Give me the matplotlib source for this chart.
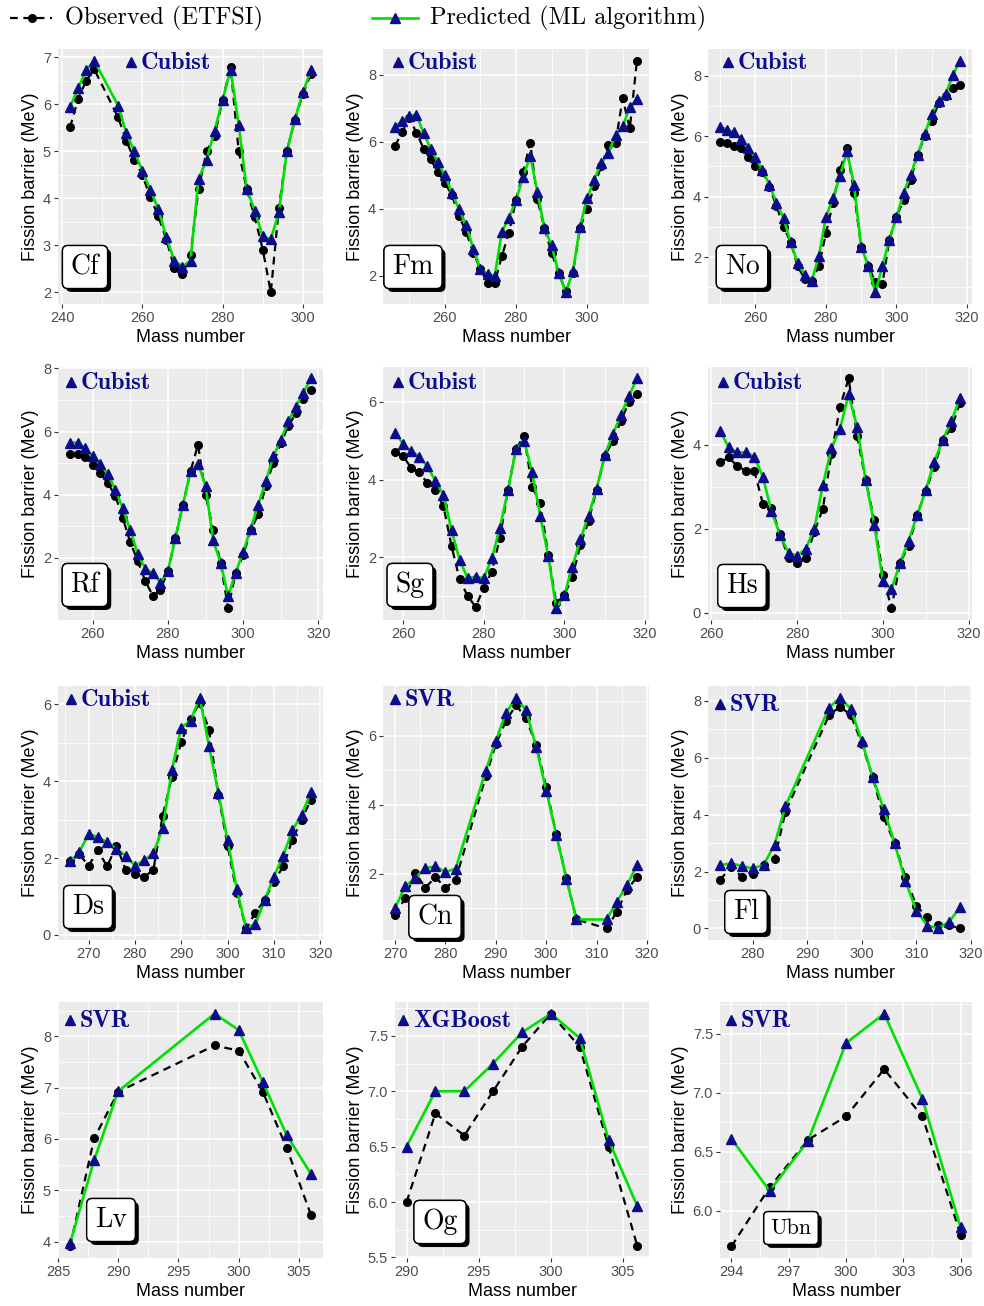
import matplotlib.pyplot as plt
import matplotlib.patheffects as pe
from matplotlib.ticker import MultipleLocator, FormatStrFormatter
from matplotlib.lines import Line2D

plt.rcParams['font.family'] = ['Liberation Sans', 'DejaVu Sans']

# ---- data (fission barriers, MeV) ----
cf_mass = [242, 244, 246, 248, 254, 256, 258, 260, 262, 264, 266, 268, 270, 272, 274,
           276, 278, 280, 282, 284, 286, 288, 290, 292, 294, 296, 298, 300, 302]
cf_obs = [5.51, 6.11, 6.5, 6.75, 5.72, 5.23, 4.82, 4.5, 4.02, 3.62, 3.12, 2.51, 2.39, 2.79, 4.2,
          5.0, 5.32, 6.1, 6.79, 5.0, 4.2, 3.6, 2.91, 2.0, 3.79, 5.0, 5.67, 6.22, 6.65]
cf_pred = [5.94, 6.34, 6.72, 6.93, 5.97, 5.39, 5.0, 4.59, 4.18, 3.77, 3.17, 2.67, 2.55, 2.67, 4.41,
           4.82, 5.44, 6.1, 6.74, 5.56, 4.2, 3.74, 3.19, 3.13, 3.7, 5.0, 5.69, 6.26, 6.72]

fm_mass = [246, 248, 250, 252, 254, 256, 258, 260, 262, 264, 266, 268, 270, 272, 274, 276, 278, 280,
           282, 284, 286, 288, 290, 292, 294, 296, 298, 300, 302, 304, 306, 308, 310, 312, 314]
fm_obs = [5.88, 6.3, 6.7, 6.28, 5.8, 5.48, 5.1, 4.78, 4.4, 3.78, 3.3, 2.68, 2.2, 1.78, 1.78, 2.58, 3.28, 4.26,
          5.1, 5.98, 4.28, 3.43, 2.68, 2.08, 1.53, 2.08, 3.43, 3.98, 4.68, 5.28, 5.9, 5.98, 7.3, 6.4, 8.43]
fm_pred = [6.45, 6.63, 6.78, 6.81, 6.26, 5.8, 5.4, 5.0, 4.48, 3.98, 3.51, 2.8, 2.2, 2.06, 1.98, 3.3, 3.73, 4.26,
           4.95, 5.58, 4.51, 3.42, 2.91, 2.08, 1.5, 2.13, 3.46, 4.33, 4.86, 5.38, 5.66, 6.2, 6.46, 7.03, 7.28]

no_mass = [250, 252, 254, 256, 258, 260, 262, 264, 266, 268, 270, 272, 274, 276, 278, 280, 282, 284,
           286, 288, 290, 292, 294, 296, 298, 300, 302, 304, 306, 308, 310, 312, 314, 316, 318]
no_obs = [5.8, 5.78, 5.69, 5.61, 5.31, 5.0, 4.83, 4.31, 3.69, 3.0, 2.5, 1.69, 1.28, 1.22, 1.69, 2.78, 3.78, 4.89,
          5.61, 4.11, 2.33, 1.72, 1.17, 1.1, 2.58, 3.33, 3.89, 4.56, 5.39, 6.0, 6.5, 7.11, 7.33, 7.58, 7.69]
no_pred = [6.31, 6.22, 6.13, 5.89, 5.61, 5.3, 4.89, 4.39, 3.8, 3.28, 2.5, 1.8, 1.41, 1.22, 2.02, 3.33, 3.94, 4.69,
           5.5, 4.37, 2.33, 1.72, 0.83, 1.69, 2.58, 3.33, 4.11, 4.72, 5.39, 6.06, 6.74, 7.17, 7.41, 8.02, 8.5]

rf_mass = [254, 256, 258, 260, 262, 264, 266, 268, 270, 272, 274, 276, 278, 280, 282, 284, 286,
           288, 290, 292, 294, 296, 298, 300, 302, 304, 306, 308, 310, 312, 314, 316, 318]
rf_obs = [5.29, 5.29, 5.19, 4.95, 4.68, 4.37, 3.97, 3.26, 2.49, 1.89, 1.26, 0.79, 0.98, 1.58, 2.63, 3.68, 4.74,
          5.58, 4.0, 2.87, 1.84, 0.39, 1.53, 2.07, 2.87, 3.37, 4.28, 5.0, 5.63, 6.18, 6.58, 7.02, 7.32]
rf_pred = [5.65, 5.65, 5.47, 5.21, 4.97, 4.65, 4.16, 3.58, 2.87, 2.11, 1.65, 1.51, 1.21, 1.58, 2.63, 3.68, 4.74,
           4.98, 4.28, 2.56, 1.84, 0.79, 1.53, 2.18, 2.92, 3.68, 4.42, 5.21, 5.74, 6.32, 6.79, 7.23, 7.68]

sg_mass = [258, 260, 262, 264, 266, 268, 270, 272, 274, 276, 278, 280, 282, 284, 286, 288,
           290, 292, 294, 296, 298, 300, 302, 304, 306, 308, 310, 312, 314, 316, 318]
sg_obs = [4.71, 4.6, 4.3, 4.19, 3.91, 3.72, 3.31, 2.29, 1.43, 1.0, 0.72, 1.22, 1.63, 2.49, 3.72, 4.79,
          5.12, 3.81, 3.4, 2.06, 0.81, 1.03, 1.5, 2.32, 2.93, 3.74, 4.6, 4.99, 5.5, 5.99, 6.19]
sg_pred = [5.21, 4.91, 4.73, 4.59, 4.34, 3.96, 3.61, 2.69, 1.93, 1.46, 1.5, 1.46, 1.97, 2.75, 3.72, 4.79,
           4.99, 4.19, 3.07, 2.03, 0.68, 1.03, 1.76, 2.47, 3.07, 3.76, 4.62, 5.16, 5.66, 6.14, 6.6]

hs_mass = [262, 264, 266, 268, 270, 272, 274, 276, 278, 280, 282, 284, 286, 288, 290,
           292, 294, 296, 298, 300, 302, 304, 306, 308, 310, 312, 314, 316, 318]
hs_obs = [3.58, 3.7, 3.5, 3.38, 3.38, 2.6, 2.5, 1.88, 1.3, 1.18, 1.3, 1.92, 2.48, 3.78, 4.9,
          5.58, 4.2, 3.16, 2.2, 0.9, 0.1, 1.18, 1.6, 2.32, 2.9, 3.48, 4.12, 4.4, 5.0]
hs_pred = [4.34, 3.94, 3.82, 3.82, 3.72, 3.24, 2.42, 1.86, 1.42, 1.36, 1.52, 2.0, 3.04, 3.92, 4.38,
           5.2, 4.42, 3.16, 2.1, 0.76, 0.56, 1.18, 1.72, 2.32, 2.92, 3.6, 4.12, 4.56, 5.12]

ds_mass = [266, 268, 270, 272, 274, 276, 278, 280, 282, 284, 286, 288, 290, 292,
           294, 296, 298, 300, 302, 304, 306, 308, 310, 312, 314, 316, 318]
ds_obs = [1.91, 2.1, 1.8, 2.2, 1.78, 2.32, 1.7, 1.59, 1.5, 1.7, 3.1, 4.11, 5.02, 5.61,
          6.04, 5.33, 3.65, 2.32, 1.09, 0.17, 0.58, 0.91, 1.39, 1.78, 2.48, 3.0, 3.52]
ds_pred = [1.91, 2.15, 2.63, 2.54, 2.41, 2.24, 2.06, 1.8, 1.94, 2.13, 2.78, 4.3, 5.39, 5.57,
           6.17, 4.9, 3.7, 2.46, 1.19, 0.17, 0.29, 0.9, 1.52, 2.06, 2.72, 3.13, 3.71]

cn_mass = [270, 272, 274, 276, 278, 280, 282, 288, 290, 292, 294, 296, 298, 300, 302,
           304, 306, 312, 314, 316, 318]
cn_obs = [0.79, 1.3, 2.03, 1.59, 1.9, 1.59, 1.81, 4.82, 5.76, 6.43, 6.89, 6.51, 5.73, 4.51, 3.14,
          1.87, 0.67, 0.41, 0.89, 1.52, 1.9]
cn_pred = [1.0, 1.63, 1.88, 2.16, 2.21, 2.05, 2.14, 4.99, 5.86, 6.66, 7.11, 6.74, 5.68, 4.41, 3.13,
           1.85, 0.67, 0.67, 1.18, 1.66, 2.24]

fl_mass = [274, 276, 278, 280, 282, 284, 286, 294, 296, 298, 300, 302, 304, 306,
           308, 310, 312, 314, 316, 318]
fl_obs = [1.7, 2.16, 1.82, 1.9, 2.22, 2.43, 4.1, 7.49, 7.79, 7.49, 6.49, 5.31, 3.9, 3.0,
          1.8, 0.8, 0.39, 0.11, 0.11, 0.0]
fl_pred = [2.22, 2.29, 2.19, 2.11, 2.23, 2.94, 4.29, 7.75, 8.11, 7.71, 6.57, 5.31, 4.2, 3.0,
           1.66, 0.63, 0.1, 0.01, 0.23, 0.74]

lv_mass = [286, 288, 290, 298, 300, 302, 304, 306]
lv_obs = [3.91, 6.01, 6.92, 7.82, 7.72, 6.92, 5.82, 4.52]
lv_pred = [3.97, 5.59, 6.93, 8.44, 8.12, 7.11, 6.07, 5.32]

og_mass = [290, 292, 294, 296, 298, 300, 302, 304, 306]
og_obs = [6.0, 6.8, 6.6, 7.0, 7.4, 7.7, 7.4, 6.5, 5.6]
og_pred = [6.5, 7.0, 7.0, 7.25, 7.53, 7.7, 7.48, 6.56, 5.96]

ubn_mass = [294, 296, 298, 300, 302, 304, 306]
ubn_obs = [5.7, 6.2, 6.6, 6.8, 7.2, 6.8, 5.8]
ubn_pred = [6.61, 6.17, 6.59, 7.42, 7.67, 6.95, 5.86]

# ---- layout (pixels) ----
W, H = 984, 1306
GREEN = '#00e000'
NAVY = '#0c0c8c'
DASH = (0, (3.5, 2.5))

rows = [(49, 304), (367, 620), (686, 940), (1002, 1258)]
cols = [(58, 323), (383, 649), (708, 972)]

# name, algorithm, data, x step, y step, y format, left override,
# algorithm label (tri x px, y px), element box centre (px)
panels = [
    ('Cf', 'Cubist', cf_mass, cf_obs, cf_pred, 20, 1, '%g', None, (131, 62), (85, 267)),
    ('Fm', 'Cubist', fm_mass, fm_obs, fm_pred, 20, 2, '%g', None, (398, 62), (413, 267)),
    ('No', 'Cubist', no_mass, no_obs, no_pred, 20, 2, '%g', None, (728, 62), (742, 267)),
    ('Rf', 'Cubist', rf_mass, rf_obs, rf_pred, 20, 2, '%g', None, (71, 382), (85, 585)),
    ('Sg', 'Cubist', sg_mass, sg_obs, sg_pred, 20, 2, '%g', None, (398, 382), (410, 585)),
    ('Hs', 'Cubist', hs_mass, hs_obs, hs_pred, 20, 2, '%g', None, (723, 382), (742, 586)),
    ('Ds', 'Cubist', ds_mass, ds_obs, ds_pred, 10, 2, '%g', None, (71, 699), (88, 907)),
    ('Cn', 'SVR', cn_mass, cn_obs, cn_pred, 10, 2, '%g', None, (395, 699), (435, 917)),
    ('Fl', 'SVR', fl_mass, fl_obs, fl_pred, 10, 2, '%g', None, (720, 704), (746, 912)),
    ('Lv', 'SVR', lv_mass, lv_obs, lv_pred, 5, 1, '%g', None, (70, 1020), (111, 1220)),
    ('Og', 'XGBoost', og_mass, og_obs, og_pred, 5, 0.5, '%.1f', 395, (403, 1020), (440, 1222)),
    ('Ubn', 'SVR', ubn_mass, ubn_obs, ubn_pred, 3, 0.5, '%.1f', 720, (731, 1020), (791, 1228)),
]


def fig_xy(x, y):
    return x / W, 1 - y / H


fig = plt.figure(figsize=(W / 100, H / 100), dpi=100)

for i, (name, algo, mass, obs, pred, xstep, ystep, yfmt, left_px, algo_px, box_px) in enumerate(panels):
    top, bottom = rows[i // 3]
    left, right = cols[i % 3]
    if left_px is not None:
        left = left_px
    ax = fig.add_axes([left / W, 1 - bottom / H, (right - left) / W, (bottom - top) / H])

    ax.plot(mass, obs, color='black', lw=1.6, linestyle=DASH, zorder=2)
    ax.plot(mass, obs, 'o', color='black', ms=5.5, zorder=3)
    ax.plot(mass, pred, color=GREEN, lw=1.9, zorder=4)
    ax.plot(mass, pred, '^', color=NAVY, ms=7.5, zorder=5)

    ax.set_facecolor('#EBEBEB')
    for s in ax.spines.values():
        s.set_visible(False)
    ax.xaxis.set_major_locator(MultipleLocator(xstep))
    ax.xaxis.set_minor_locator(MultipleLocator(xstep / 2))
    ax.yaxis.set_major_locator(MultipleLocator(ystep))
    ax.yaxis.set_minor_locator(MultipleLocator(ystep / 2))
    ax.yaxis.set_major_formatter(FormatStrFormatter(yfmt))
    ax.grid(which='major', color='white', lw=1.1)
    ax.grid(which='minor', color='white', lw=0.55)
    ax.set_axisbelow(True)
    ax.tick_params(which='major', length=3, width=0.8, color='#333333',
                   labelsize=10.5, labelcolor='#4D4D4D', pad=2)
    ax.tick_params(which='minor', length=0)
    ax.set_xlabel('Mass number', fontsize=13, labelpad=3)
    ax.set_ylabel('Fission barrier (MeV)', fontsize=13, labelpad=3)

    # algorithm tag
    tx, ty = fig_xy(*algo_px)
    fig.add_artist(Line2D([tx], [ty], marker='^', color=NAVY, ms=7, transform=fig.transFigure))
    fig.text(tx + 10 / W, ty - 1 / H, algo, fontfamily='cmb10', fontsize=17.5, color=NAVY,
             ha='left', va='center')

    # element box
    bx, by = fig_xy(*box_px)
    t = fig.text(bx, by, name, fontfamily='cmr10', fontsize=16 if name == 'Ubn' else 20,
                 ha='center', va='center',
                 bbox=dict(boxstyle='round,pad=0.3,rounding_size=0.2', fc='white', ec='black', lw=1))
    t.get_bbox_patch().set_path_effects([
        pe.withSimplePatchShadow(offset=(2.5, -2.5), shadow_rgbFace='black', alpha=1.0),
        pe.Normal()])

# ---- top legend ----
ly = 1 - 18 / H
fig.add_artist(Line2D([10 / W, 52 / W], [ly, ly], color='black', lw=1.6, linestyle=DASH,
                      transform=fig.transFigure))
fig.add_artist(Line2D([32 / W], [ly], marker='o', color='black', ms=5.5, transform=fig.transFigure))
fig.text(65 / W, ly, 'Observed (ETFSI)', fontfamily='cmr10', fontsize=17.5, ha='left', va='center')
fig.add_artist(Line2D([372 / W, 418 / W], [ly, ly], color=GREEN, lw=1.9, transform=fig.transFigure))
fig.add_artist(Line2D([395 / W], [ly], marker='^', color=NAVY, ms=7.5, transform=fig.transFigure))
fig.text(430 / W, ly, 'Predicted (ML algorithm)', fontfamily='cmr10', fontsize=17.5, ha='left', va='center')

fig.savefig('out.png', dpi=100)
